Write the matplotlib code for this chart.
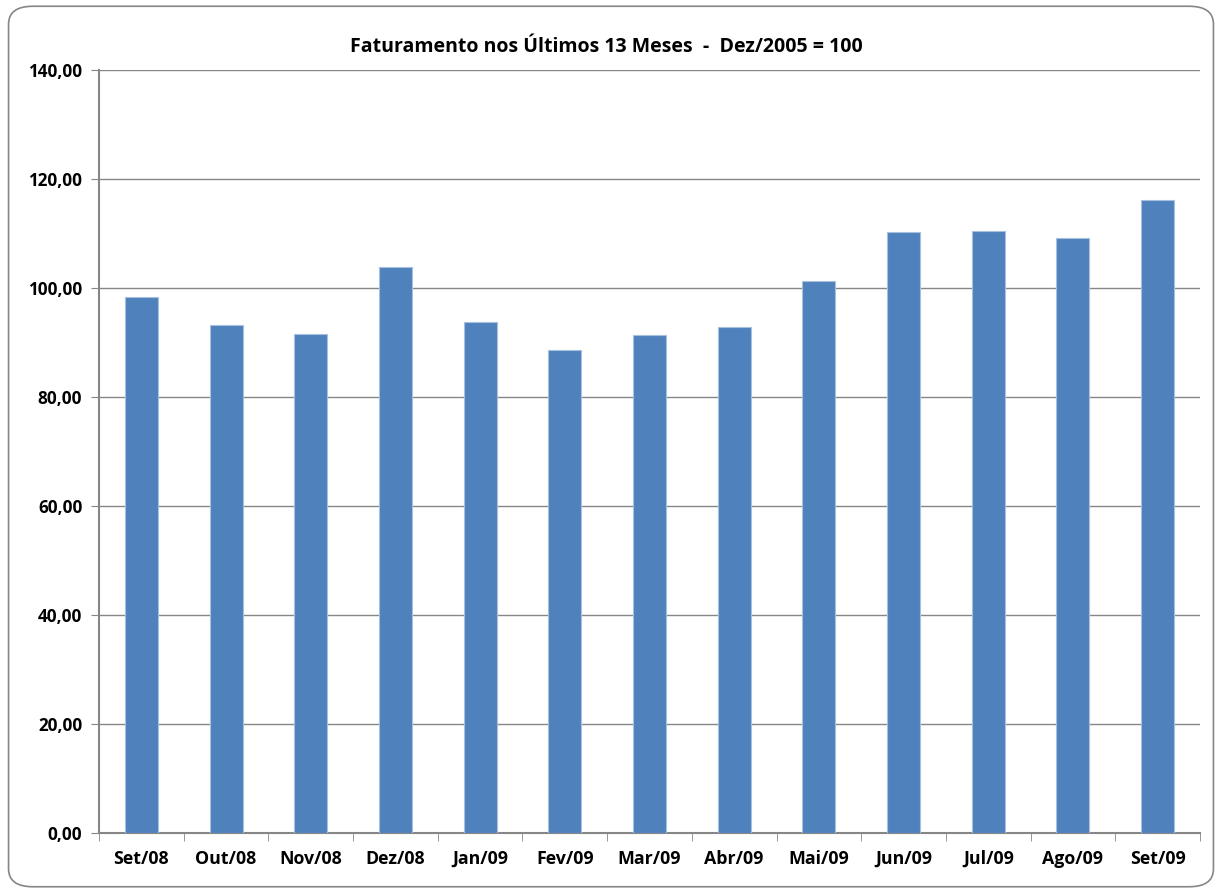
import numpy as np
import matplotlib.pyplot as plt
from matplotlib.patches import FancyBboxPatch

meses = ['Set/08', 'Out/08', 'Nov/08', 'Dez/08', 'Jan/09', 'Fev/09', 'Mar/09',
         'Abr/09', 'Mai/09', 'Jun/09', 'Jul/09', 'Ago/09', 'Set/09']
faturamento = [98.3, 93.2, 91.6, 103.9, 93.8, 88.6, 91.4, 92.8, 101.3, 110.3, 110.5, 109.2, 116.1]
yticks = [0, 20, 40, 60, 80, 100, 120, 140]

plt.rcParams['font.family'] = ['Open Sans', 'DejaVu Sans']
plt.rcParams['font.weight'] = 'bold'

fig = plt.figure(figsize=(12.22, 8.93), dpi=100)
# moldura arredondada
borda = FancyBboxPatch((0.007, 0.007), 0.986, 0.986, boxstyle='round,pad=0,rounding_size=0.02',
                       transform=fig.transFigure, facecolor='white', edgecolor='#868686',
                       lw=1.2, zorder=-1)
fig.patches.append(borda)

ax = fig.add_axes([0.081, 0.0672, 0.901, 0.8544])
ax.set_facecolor('none')
x = np.arange(len(meses))
ax.bar(x, faturamento, width=0.39, color='#4F81BD', edgecolor='#A7C0DE', lw=0.8, zorder=3)

ax.set_xlim(-0.5, len(meses) - 0.5)
ax.set_ylim(0, 140)
ax.set_yticks(yticks)
ax.set_yticklabels(['%d,00' % v for v in yticks], fontsize=12.3, fontweight='bold')
ax.set_xticks(x)
ax.set_xticklabels(meses, fontsize=12.8, fontweight='bold')
ax.tick_params(axis='x', length=0, pad=12)
ax.set_xticks(np.arange(-0.5, len(meses)), minor=True)
ax.tick_params(axis='x', which='minor', length=6, color='#868686')
ax.tick_params(axis='y', length=6, color='#868686', pad=6)
ax.grid(axis='y', color='#868686', lw=1, zorder=0)
for s in ['top', 'right']:
    ax.spines[s].set_visible(False)
ax.spines['left'].set_color('#868686')
ax.spines['bottom'].set_color('#868686')
ax.spines['left'].set_linewidth(1.5)
ax.spines['bottom'].set_linewidth(1.5)

# titulo centrado na figura, nao no eixo
fig.text(0.496, 0.947, 'Faturamento nos Últimos 13 Meses  -  Dez/2005 = 100', fontsize=14,
         fontweight='bold', ha='center', va='center')

fig.savefig('out.png', dpi=100)
